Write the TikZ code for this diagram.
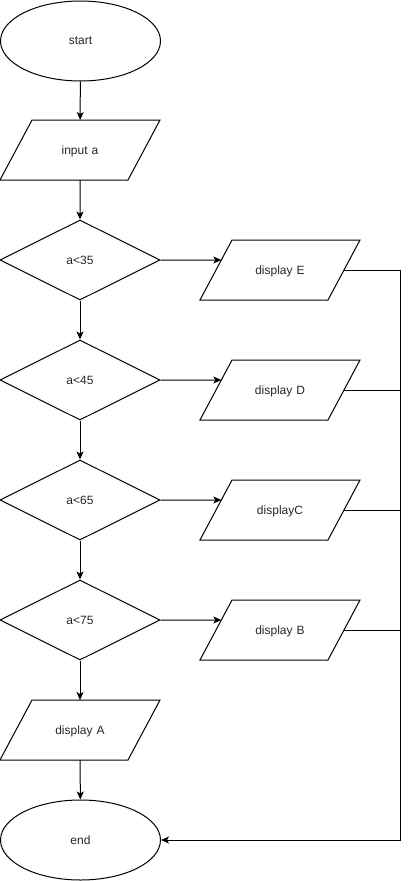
\documentclass[tikz,border=0pt]{standalone}
\usepackage{fontspec}
\setmainfont{Liberation Sans}
\usetikzlibrary{shapes.geometric,arrows.meta,calc}
\begin{document}
\begin{tikzpicture}[x=1pt,y=-1pt,
  every node/.style={font=\fontsize{12}{14}\selectfont, text=black!85, line width=1pt},
  term/.style={draw, ellipse, minimum width=160pt, minimum height=80pt, inner sep=0pt},
  io/.style={draw, trapezium, trapezium left angle=61.93, trapezium right angle=118.07,
     inner sep=0pt, outer sep=0pt, text width=96pt, align=center, text height=34pt, text depth=26pt},
  dec/.style={draw, diamond, minimum width=160pt, minimum height=80pt, inner sep=0pt},
  conn/.style={line width=1pt, -{Stealth[length=8pt,width=7pt,inset=2pt]}},
  plain/.style={line width=1pt}
]
\useasboundingbox (0,0) rectangle (409,881);
\node[term] (start) at (80.5,41) {start};
\node[io] (in) at (80,150) {input a};
\node[dec] (d1) at (80,260) {a<35};
\node[dec] (d2) at (80,380) {a<45};
\node[dec] (d3) at (80,500) {a<65};
\node[dec] (d4) at (80,620) {a<75};
\node[io] (pa) at (80,730) {display A};
\node[term] (end) at (80.5,840) {end};
\node[io] (pe) at (280,270) {display E};
\node[io] (pd) at (280,390) {display D};
\node[io] (pc) at (280,510) {displayC};
\node[io] (pb) at (280,630) {display B};
\coordinate (rail) at (400,840);

\draw[conn] (start) -- (in);
\draw[conn] (in) -- (d1);
\draw[conn] (d1) -- (d2);
\draw[conn] (d2) -- (d3);
\draw[conn] (d3) -- (d4);
\draw[conn] (d4) -- (pa);
\draw[conn] (pa) -- (end);

\foreach \d/\p in {d1/pe,d2/pd,d3/pc,d4/pb}{
  \draw[conn] (\d.east) -- ($(\p.bottom left corner)!0.6667!(\p.top left corner)$);
}
\draw[plain] (pd.east) -- (pd.east -| rail);
\draw[plain] (pc.east) -- (pc.east -| rail);
\draw[plain] (pb.east) -- (pb.east -| rail);
\draw[conn] (pe.east) -- (pe.east -| rail) -- (rail) -- (end.east);
\end{tikzpicture}
\end{document}
